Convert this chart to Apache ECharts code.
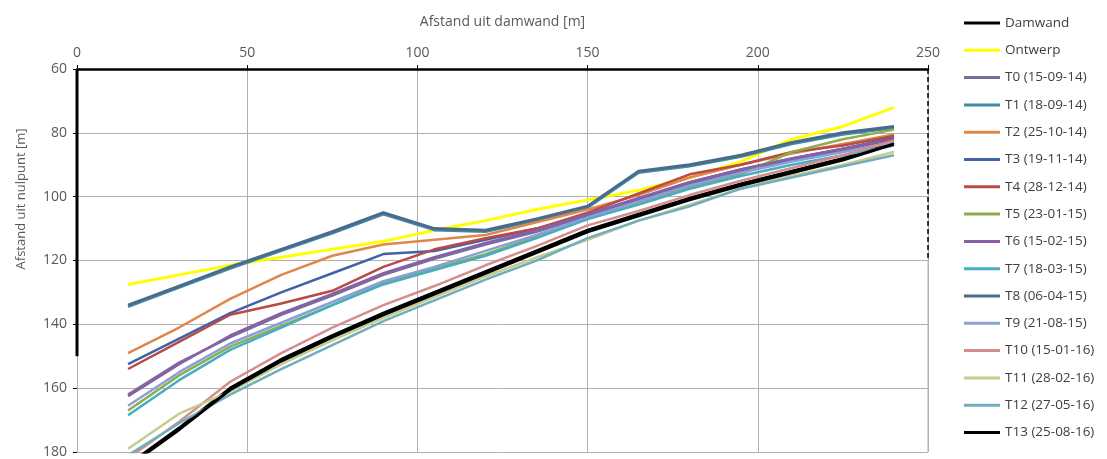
<!DOCTYPE html>
<html>
<head>
<meta charset="utf-8">
<script src="https://cdn.jsdelivr.net/npm/echarts@6/dist/echarts.min.js"></script>
<style>
html,body{margin:0;padding:0;background:#fff;}
#chart{width:1107px;height:459px;}
</style>
</head>
<body>
<div id="chart"></div>
<script>
// x positions (Afstand uit damwand [m])
const xs = [15,30,45,60,75,90,105,120,135,150,165,180,195,210,225,240];

const seriesNames = ['Damwand','Ontwerp','T0 (15-09-14)','T1 (18-09-14)','T2 (25-10-14)','T3 (19-11-14)','T4 (28-12-14)','T5 (23-01-15)','T6 (15-02-15)','T7 (18-03-15)','T8 (06-04-15)','T9 (21-08-15)','T10 (15-01-16)','T11 (28-02-16)','T12 (27-05-16)','T13 (25-08-16)'];

const damwand = [184,172.5,160,151,143.5,136.5,130,123.5,117,110.5,105.5,100.5,96,92,88,83];
const ontwerp = [127.5,124.5,121.5,119,116.5,114,110.5,107.5,104,101,98,94,89,82,78,72];
const t0  = [162,152,144,137,131,124.5,119.5,115,111,106,101,96,92,88.5,85.5,82];
const t1  = [134.5,128.5,122.5,117,111.5,105.5,110.5,111,107.5,103.5,92.5,90.5,87.5,83.5,80.5,78.5];
const t2  = [149,141,132,124.5,118.5,115,113.5,112,108,104,99.5,94,90,86.5,83.5,80.5];
const t3  = [152.5,144.5,136.5,130,124,118,117,113.5,110,105.5,100.5,95.5,91.5,88,85,81.5];
const t4  = [154,145.5,137,133.5,129.5,122,116.5,113,110,105,99,93,90,86,84,81];
const t5  = [167,156,147,140.5,134,127,122.5,118,112.5,107,102,97,93,86,82,79];
const t6  = [162.5,152.5,143.5,136.5,130.5,124,119,114.5,110.5,105.5,100.5,95.5,91.5,88,85,82];
const t7  = [168.5,157.5,148,141,134,127.5,123,118.5,113,107,102.5,97.5,93.5,90,87,84];
const t8  = [134,128,122,116.5,111,105,110,110.5,107,103,92,90,87,83,80,78];
const t9  = [165.5,155,146,139.5,133,126.5,122,117,112,106.5,101.5,96.5,92.5,89,86,83];
const t10 = [182,170.5,158,149,141,134,128,121.5,115.5,109,104.5,99.5,95,91,87,82.5];
const t11 = [179,168,161,152.5,145,138,131.5,125,119,113.5,107.5,102.5,97.5,93.5,90,86];
const t12 = [181,171,162,154,146.5,139,132.5,126,120,113,107.5,103,97.5,94,90.5,87];
const t13 = [184.5,173,160.5,151.5,144,137,130.5,124,117.5,111,106,101,96.5,92.5,88.5,83.5];

const allValues = [damwand,ontwerp,t0,t1,t2,t3,t4,t5,t6,t7,t8,t9,t10,t11,t12,t13];
const colors = ['#000000','#FFFF00','#75709A','#3F8CA6','#E0864A','#3F62A8','#B84A48','#8EAE4E','#8A5FA8','#45ADC4','#4A6B8C','#8A9FD8','#D48E8C','#C4CC8E','#70AEBD','#000000'];
const widths = [3,3,2.5,2.5,2.5,2.5,2.5,2.5,2.5,2.5,3,2.5,2.5,2.5,2.5,3];

// frame segments (axis-side decorations, in data units)
const frameLeft = [[0,60],[0,150]];
const frameRight = [[250,60],[250,120]];
const frameRightLower = [[250,120],[250,180]];

const xTicks = {min:0, max:250, interval:50};
const yTicks = {min:60, max:180, interval:20};

const FONT = '"Open Sans", Lato, sans-serif';

const series = seriesNames.map((name,i)=>({
  name: name,
  type: 'line',
  data: xs.map((x,j)=>[x, allValues[i][j]]),
  symbol: 'none',
  clip: true,
  lineStyle: {color: colors[i], width: widths[i]},
  itemStyle: {color: colors[i]},
  z: 2 + i
}));
series.push({
  type:'line', data: frameRightLower, symbol:'none', silent:true,
  lineStyle:{color:'#B0B0B0', width:1}, z:1
});
series.push({
  type:'line', data: frameLeft, symbol:'none', silent:true,
  lineStyle:{color:'#000', width:3}, z:30
});
series.push({
  type:'line', data: frameRight, symbol:'none', silent:true,
  lineStyle:{color:'#000', width:1.5, type:[5,3]}, z:30
});

const chart = echarts.init(document.getElementById('chart'), null, {renderer:'canvas'});
chart.setOption({
  animation: false,
  backgroundColor: '#fff',
  textStyle: {fontFamily: FONT},
  grid: {left: 77, right: 179, top: 69, bottom: 3, containLabel: false},
  xAxis: {
    type: 'value', position: 'top',
    min: xTicks.min, max: xTicks.max, interval: xTicks.interval,
    name: 'Afstand uit damwand [m]', nameLocation: 'middle', nameGap: 40,
    nameTextStyle: {color:'#595959', fontSize: 14, fontFamily: FONT},
    axisLine: {show: true, onZero: false, lineStyle: {color:'#000', width: 2.5}},
    axisTick: {show: true, inside: false, length: 4, lineStyle:{color:'#000'}},
    axisLabel: {color:'#595959', fontSize: 14, margin: 9, fontFamily: FONT},
    splitLine: {show: true, lineStyle: {color:'#B0B0B0', width: 1}}
  },
  yAxis: {
    type: 'value', inverse: true,
    min: yTicks.min, max: yTicks.max, interval: yTicks.interval,
    axisLine: {show: false},
    axisTick: {show: true, length: 4, lineStyle:{color:'#000'}},
    axisLabel: {color:'#595959', fontSize: 14, margin: 10, fontFamily: FONT},
    splitLine: {show: true, lineStyle: {color:'#B0B0B0', width: 1}}
  },
  legend: {
    data: seriesNames,
    orient: 'vertical',
    left: 959, top: 11,
    icon: 'rect',
    itemWidth: 36, itemHeight: 3, itemGap: 13.3,
    textStyle: {color:'#404040', fontSize: 13.5, lineHeight: 14, fontFamily: FONT}
  },
  graphic: [{
    type: 'text',
    x: 21, y: 199,
    rotation: Math.PI/2,
    style: {text:'Afstand uit nulpunt [m]', fill:'#595959', font:'13px ' + FONT, align:'center', verticalAlign:'middle'}
  }],
  series: series
});
</script>
</body>
</html>
